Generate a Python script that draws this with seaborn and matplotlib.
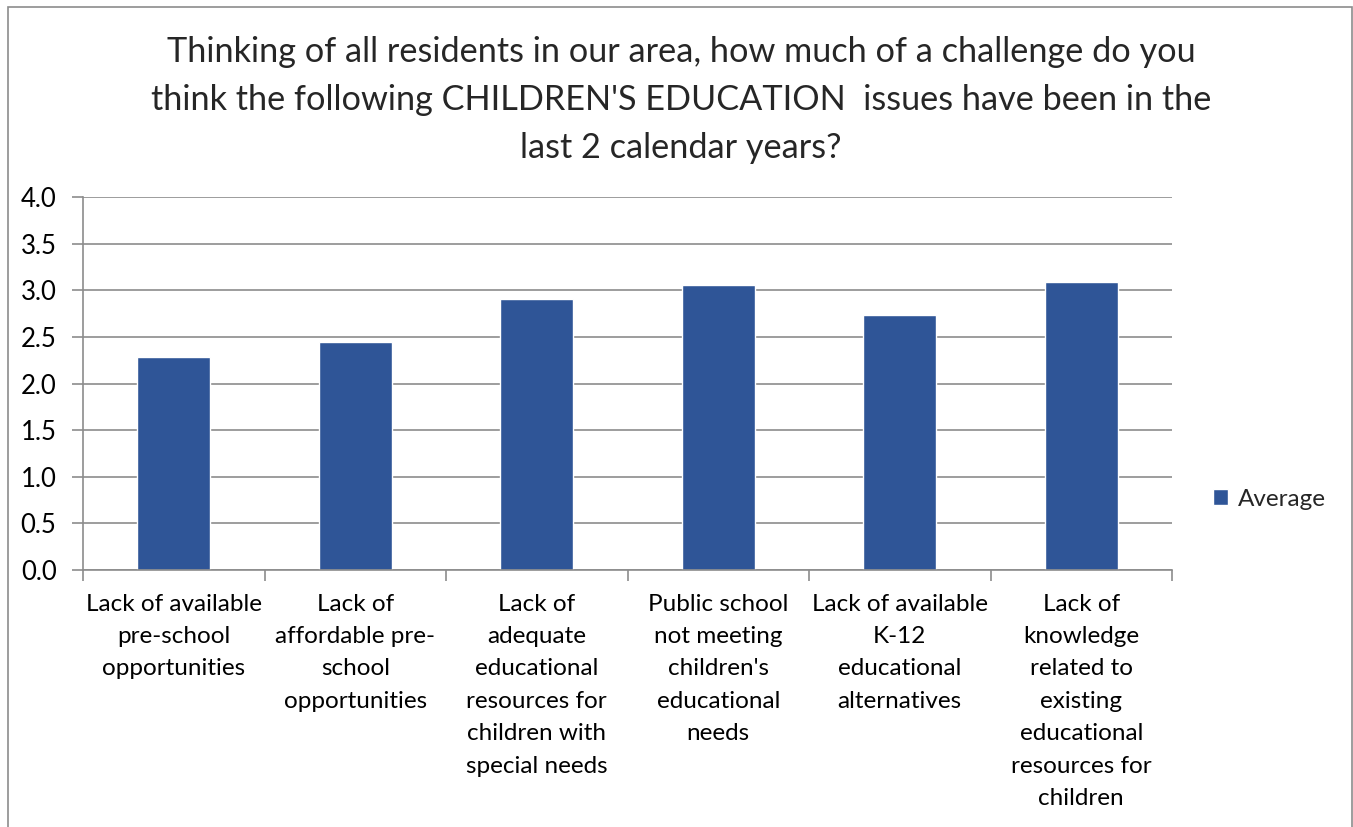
import matplotlib
matplotlib.use("Agg")
import matplotlib.pyplot as plt
import matplotlib.patches as mpatches
import seaborn as sns
import pandas as pd
import numpy as np

categories = [
    "Lack of available\npre-school\nopportunities",
    "Lack of\naffordable pre-\nschool\nopportunities",
    "Lack of\nadequate\neducational\nresources for\nchildren with\nspecial needs",
    "Public school\nnot meeting\nchildren's\neducational\nneeds",
    "Lack of available\nK-12\neducational\nalternatives",
    "Lack of\nknowledge\nrelated to\nexisting\neducational\nresources for\nchildren",
]
values = [2.28, 2.44, 2.91, 3.06, 2.73, 3.09]
series_name = "Average"
yticks = [0.0, 0.5, 1.0, 1.5, 2.0, 2.5, 3.0, 3.5, 4.0]
title = ("Thinking of all residents in our area, how much of a challenge do you\n"
         "think the following CHILDREN'S EDUCATION  issues have been in the\n"
         "last 2 calendar years?")

sns.set_theme(style="white")
plt.rcParams['font.family'] = ['Lato', 'DejaVu Sans']

df = pd.DataFrame({"category": categories, "value": values, "series": series_name})

fig = plt.figure(figsize=(13.53, 8.27), dpi=100)
ax = fig.add_axes([83/1353, 1-570/827, (1172-83)/1353, (570-197)/827])

bar_color = "#2F5597"
sns.barplot(data=df, x="category", y="value", hue="series", palette=[bar_color],
            width=0.40, ax=ax, saturation=1, legend=True)

ax.set_ylim(0, 4.0)
ax.set_xlim(-0.5, len(categories) - 0.5)
ax.set_yticks(yticks)
ax.set_yticklabels([f"{v:.1f}" for v in yticks], fontsize=18.5)
ax.yaxis.grid(True, color="#8c8c8c", linewidth=1.2)
ax.set_axisbelow(True)
ax.set_xlabel("")
ax.set_ylabel("")

for s in ["top", "right"]:
    ax.spines[s].set_visible(False)
for s in ["left", "bottom"]:
    ax.spines[s].set_color("#8c8c8c")
    ax.spines[s].set_linewidth(1.2)

ax.set_xticks(range(len(categories)))
ax.set_xticklabels(categories, fontsize=17.5, linespacing=1.67, va="top")
ax.tick_params(axis="x", which="major", length=0, pad=17)
ax.set_xticks(np.arange(-0.5, len(categories), 1.0), minor=True)
ax.tick_params(axis="x", which="minor", length=8, color="#8c8c8c", width=1.2, bottom=True)
ax.tick_params(axis="y", length=8, color="#8c8c8c", width=1.2, left=True, pad=11)
for lbl in ax.get_yticklabels() + ax.get_xticklabels():
    lbl.set_color("black")

leg = ax.legend(loc="center left", bbox_to_anchor=(1.018, 0.19), frameon=False,
                fontsize=17.5, handlelength=0.6, handleheight=0.6, handletextpad=0.4)

fig.text(681/1353, 1-100/827, title, ha="center", va="center", fontsize=24.7,
         linespacing=1.6)

frame = mpatches.Rectangle((8/1353, -0.1), (1352-8)/1353, 1.1 - 7/827,
                           transform=fig.transFigure, fill=False,
                           edgecolor="#8c8c8c", linewidth=1.2)
fig.patches.append(frame)

fig.savefig("out.png", dpi=100)
